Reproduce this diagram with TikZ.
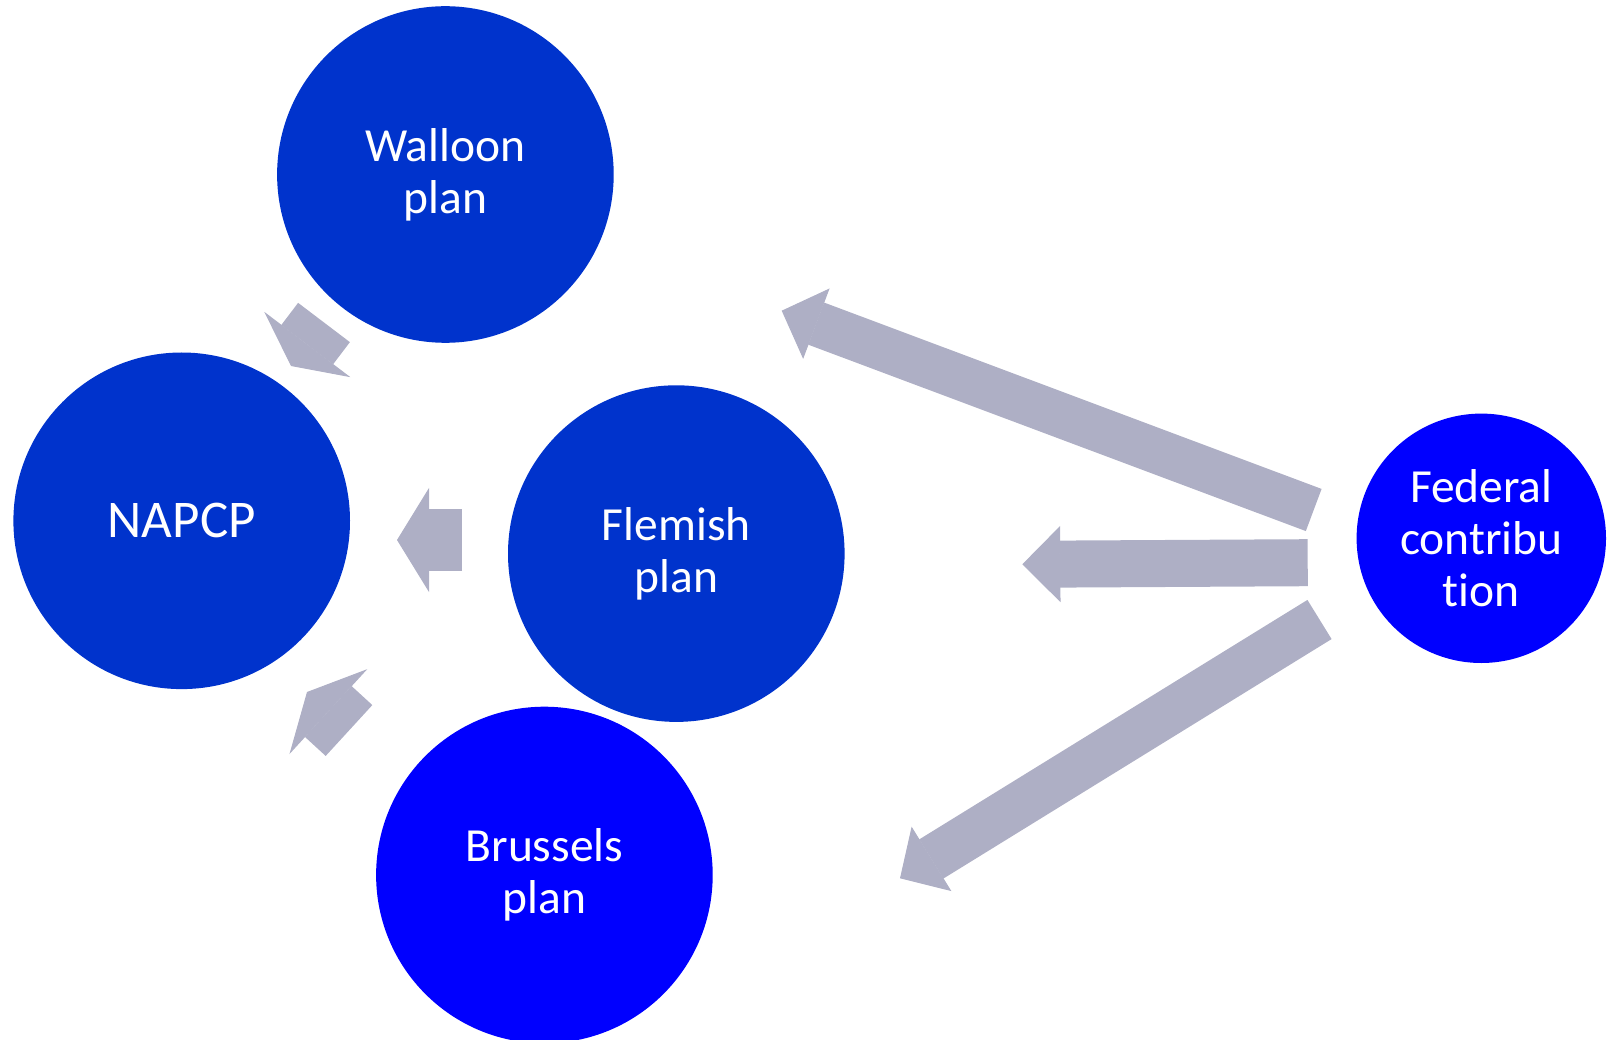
\documentclass[tikz,border=0pt]{standalone}
\usepackage{fontspec}
\setmainfont{Carlito}[Ligatures=NoCommon]
\usetikzlibrary{arrows.meta}
\definecolor{planblue}{RGB}{0,51,204}
\definecolor{brightblue}{RGB}{0,0,255}
\definecolor{flowgray}{RGB}{174,175,197}
\tikzset{
  plan/.style={circle, fill=planblue, text=white, minimum size=336.6pt, inner sep=0pt,
    align=center, font=\fontsize{47.5}{52}\selectfont},
  flow/.style n args={3}{draw=flowgray, line width=#1,
    -{Triangle[width=#2, length=#3, line width=1pt]}}
}
\begin{document}
\begin{tikzpicture}[x=1pt,y=-1pt]
\useasboundingbox (0,0) rectangle (1609,1040);
\node[plan] (walloon) at (445.4,174.5) {Walloon\\plan};
\node[plan, font=\fontsize{53}{58}\selectfont] (napcp) at (181.7,520.8) {NAPCP};
\node[plan] (flemish) at (676.3,553.6) {Flemish\\plan};
\node[plan, fill=brightblue] (brussels) at (544.4,875) {Brussels\\plan};
\node[plan, fill=brightblue, minimum size=249.4pt] (federal) at (1481.3,538.3) {Federal\\contribu\\tion};
\coordinate (wtail) at (324,322.5);
\coordinate (whead) at (291,366);
\coordinate (ftail) at (462,540);
\coordinate (fhead) at (397,540);
\coordinate (btail) at (349,730.5);
\coordinate (bhead) at (307,692);
\coordinate (fedtail1) at (1313.7,510);
\coordinate (fedhead1) at (781.7,310.7);
\coordinate (fedtail2) at (1307.7,562.7);
\coordinate (fedhead2) at (1022.3,564.3);
\coordinate (fedtail3) at (1319.5,619.5);
\coordinate (fedhead3) at (900,878.3);
\draw[flow={65pt}{108pt}{27pt}] (wtail) -- (whead);
\draw[flow={62pt}{104pt}{32pt}] (ftail) -- (fhead);
\draw[flow={69pt}{115pt}{29pt}] (btail) -- (bhead);
\draw[flow={45pt}{75pt}{37pt}] (fedtail1) -- (fedhead1);
\draw[flow={47pt}{76pt}{38pt}] (fedtail2) -- (fedhead2);
\draw[flow={46pt}{75.5pt}{37pt}] (fedtail3) -- (fedhead3);
\end{tikzpicture}
\end{document}
